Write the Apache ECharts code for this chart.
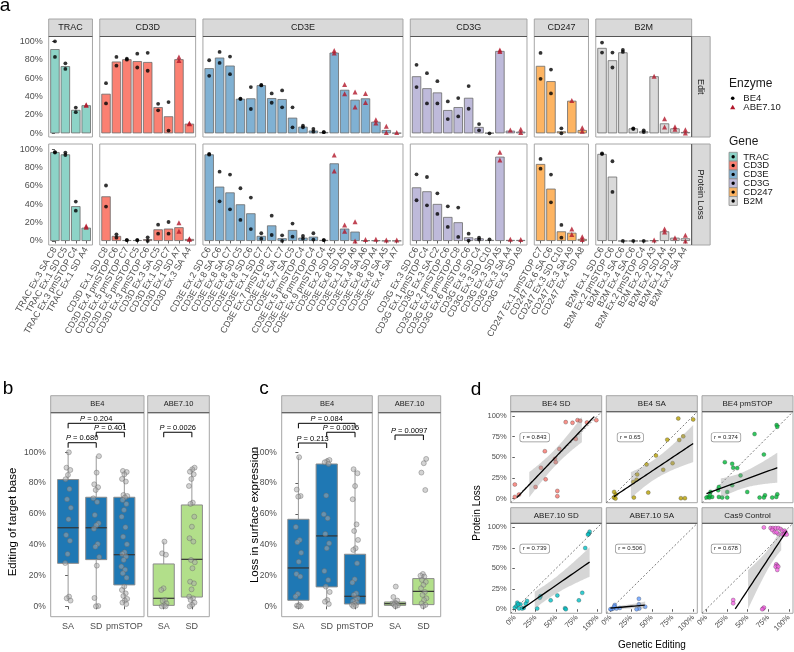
<!DOCTYPE html>
<html>
<head>
<meta charset="utf-8">
<script src="https://cdn.jsdelivr.net/npm/echarts@6/dist/echarts.min.js"></script>
<style>html,body{margin:0;padding:0;background:#fff;}#chart{width:794px;height:652px;}</style>
</head>
<body>
<div id="chart"></div>
<script>
// ================= Panel a data =================
const geneNames = ['TRAC','CD3D','CD3E','CD3G','CD247','B2M'];

const tracLabels = ['TRAC Ex.3 SA C8','TRAC Ex.1 SD C5','TRAC Ex.3 pmSTOP C4','TRAC Ex.1 SD A4'];
const tracEditBar = [91.5,73,25.5,30.5];
const tracEditPts = [[100,83],[76,70],[28,23],[31,30.5]];
const tracLossBar = [97,94.5,38,14.5];
const tracLossPts = [[97,96.5],[96.4,93.8],[43,33],[16.4,15]];

const cd3dLabels = ['CD3D Ex.1 SD C8','CD3D Ex.4 pmSTOP C6','CD3D Ex.5 pmSTOP C7','CD3D Ex.5 pmSTOP C5','CD3D Ex.3 pmSTOP C6','CD3D Ex.3 SA C5','CD3D Ex.1 SD C7','CD3D Ex.1 SD A7','CD3D Ex.3 SA A4'];
const cd3dEditBar = [43,78,80.5,78.5,77.5,28.5,18.5,80.5,10.5];
const cd3dEditPts = [[54.5,32.5],[83,73.5],[81,80],[86.5,71.5],[87.5,68],[32,25],[34,3],[83,79],[11,10.5]];
const cd3dLossBar = [48.7,5.5,1,1,2,12.7,13.5,15,2.2];
const cd3dLossPts = [[60.5,37.5],[7.3,3.6],[1,1],[1,1],[4,0],[17.8,8],[20.7,8],[20,10.5],[2.5,2]];

const cd3eLabels = ['CD3E Ex.2 SD C6','CD3E Ex.8 SA C6','CD3E Ex.8 SA C7','CD3E Ex.8 SD C5','CD3E Ex.8 SD C6','CD3E Ex.1 SD C7','CD3E Ex.7 pmSTOP C7','CD3E Ex.5 SA C7','CD3E Ex.7 SA C5','CD3E Ex.5 pmSTOP C4','CD3E Ex.6 pmSTOP C4','CD3E Ex.9 pmSTOP C4','CD3E Ex.2 SD A5','CD3E Ex.8 SD A5','CD3E Ex.1 SD A6','CD3E Ex.4 SA A6','CD3E Ex.8 SD A4','CD3E Ex.8 SA A5','CD3E Ex.4 SA A7'];
const cd3eEditBar = [70.8,82.3,73.6,37.5,38,52.3,38.3,37.2,17,7.2,3,1.4,87.7,47.3,36.5,38,12.6,3.6,0.4];
const cd3eEditPts = [[79.4,62.5],[88.4,76.5],[83.4,64.3],[37.8,37.2],[50.2,26.4],[52.5,52],[43.3,33.2],[46.6,28.2],[28.2,6.5],[8.3,6.5],[4.7,1.8],[1.3,1.2],[90,87.4],[53,43],[45,28.5],[43.3,33.6],[14.8,11.2],[7.6,1],[1]];
const cd3eLossBar = [94.5,59.3,53,40,30.2,5.5,17,3,12,3.6,4.7,1.1,84.7,13.5,10.2,0.7,0.7,0.3,0.3];
const cd3eLossPts = [[95,94.2],[75.6,43.3],[72.4,34.5],[57.5,23],[47.3,13],[8.4,2.5],[27.6,6.5],[6.2,0],[19,4.7],[5.5,2.5],[8.4,1.5],[1,1],[93.8,76.4],[17.5,10.5],[21,0],[1.5],[1.8],[1],[1]];

const cd3gLabels = ['CD3G Ex.3 SD C6','CD3G Ex.1 pmSTOP C4','CD3G Ex.3 SA C2','CD3G Ex.2 pmSTOP C6','CD3G Ex.5 pmSTOP C8','CD3G Ex.6 pmSTOP C6','CD3G Ex.5 SD C4','CD3G Ex.3 SD C10','CD3G Ex.3 SD A5','CD3G Ex.3 SA A4','CD3G Ex.5 SD A9'];
const cd3gEditBar = [62,49,44.4,25.3,28.5,38.6,6.9,0.4,89.5,2.9,1.8];
const cd3gEditPts = [[74.4,50.2],[65.3,32.5],[56.7,32.5],[34.7,15.5],[38.3,18.4],[51.3,26.7],[10,3.2],[0],[90.6,89],[3.6],[4.3,1]];
const cd3gLossBar = [58.5,54.2,40.4,26.2,20.4,4,2.9,1.1,92,1.1,1.1];
const cd3gLossPts = [[72.7,44.4],[69.8,38.9],[52,29.5],[37.8,15.3],[36.4,4.4],[8,0.4],[3.6,1.5],[1.8],[96.7,88.4],[1.8],[1.5]];

const cd247Labels = ['CD247 Ex.1 pmSTOP C7','CD247 Ex.6 SA C6','CD247 Ex.3 SD C10','CD247 Ex.3 SA A9','CD247 Ex.4 SD A8'];
const cd247EditBar = [73.3,56.7,2.2,35.4,3.6];
const cd247EditPts = [[87.4,59.2],[69.3,43.3],[5.4,0],[35.7],[6.1,2.2]];
const cd247LossBar = [84,57.1,10.5,9,2.2];
const cd247LossPts = [[89.5,78.9],[72.4,42.2],[17.5,3.6],[13,7],[4.7,1.5]];

const b2mLabels = ['B2M Ex.1 SD C6','B2M Ex.2 pmSTOP C6','B2M Ex.3 SA C6','B2M Ex.4 SA C6','B2M Ex.2 pmSTOP C4','B2M Ex.2 SD A3','B2M Ex.2 SD A4','B2M Ex.1 SD A5','B2M Ex.2 SA A4'];
const b2mEditBar = [92.8,79.4,88,5.4,2.2,62,10.8,5.4,1.4];
const b2mEditPts = [[98.6,87.7],[87.7,71.5],[90.6,88.4],[5.4,4.7],[3.2,1.4],[62],[15.9,6.9],[7.2,4.3],[4,0.4]];
const b2mLossBar = [95,70.2,0,0,0,0.7,10.5,3.6,2.9];
const b2mLossPts = [[95.6,94.8],[87,53.5],[0],[0],[0],[1],[13,9.8],[3.6],[6.2,0]];

const pctTicks = [0,20,40,60,80,100];
const enzymeNames = ['BE4','ABE7.10'];

// ================= Panel b / c data =================
const be4Cats = ['SA','SD','pmSTOP'];
const abeCats = ['SA','SD'];
const stripBE4 = 'BE4', stripABE = 'ABE7.10';

const bBe4Sa = [100,90,88.5,85.3,82.5,76.2,69.5,64,56.5,46.3,42.6,34,28.1,6.3,5.2,3.7];
const bBe4Sd = [97.5,86.8,79.2,77.3,75.5,70.1,67.7,59.3,53.9,52.6,50.4,40.5,38.7,32,26.4,5.4,0.2,0];
const bBe4Pm = [87.9,87.2,85.7,82.7,81,72.3,71.6,70.6,69,66.5,62.6,58.2,51.3,45.2,40.3,35.1,34,32.3,30.1,25.8,23.8,21.4,18.6,12.8,10.6,8.4,6.7,4.8,3.7,2.4,1.5];
const bAbeSa = [42,34.4,33.5,11.7,10.6,4.1,3.5,1.9,0.6,0,0];
const bAbeSd = [90,89,87.4,85.7,82.7,78.1,67.3,66.5,58.2,51.7,44.2,42,30.1,28.6,24.7,16,14.9,11,6.3,5.2,4.1,2.4,0.9,0];
const bBoxBe4 = [[3.7,27.9,51,82.3,100],[0,30.3,51,70.8,97.5],[1.5,13.9,33.5,70.8,88]];
const bBoxAbe = [[0,0.6,5.2,27.5,42],[0,6,30.5,65.8,90]];
const bPvalBe4 = [[0,2,118.8,'0.204'],[1,2,113,'0.401'],[0,1,106.2,'0.680']];
const bPvalAbe = [[0,1,113,'0.0026']];

const cBe4Sa = [96.8,75.8,71.6,71.2,51.5,43,41.6,34.8,29,21,19.3,8,6.3,0.9,0.4,0,0];
const cBe4Sd = [95,94.2,93.5,92.4,71.9,59.7,57.1,47,40.9,37.7,22.9,17.1,12.8,9.3,4.1,3,1.5];
const cBe4Pm = [89,86.4,78.1,69.5,53.2,48.9,43.1,37.7,36.6,27.9,17.5,15.4,8.4,7.4,5.2,4.1,3.2,2.4,1.5,0.9,0.4,0];
const cAbeSa = [12.8,6,3.7,2.4,1.9,1.5,1.1,0.6,0];
const cAbeSd = [95.7,92.9,86.8,75.5,21,19.9,19.3,17.1,15.8,13.9,11.7,9.3,7.4,5.2,4.1,1.9,0.9,0];
const cBoxBe4 = [[0,3.9,24.9,56.5,97.2],[1.5,12.6,45.7,92.4,96],[0,1.5,6.5,33.8,89]];
const cBoxAbe = [[0,0.6,1.7,2.8,3.7],[0,1.1,9.7,18,21]];
const cPvalBe4 = [[0,2,118.8,'0.084'],[1,2,113,'0.0016'],[0,1,106,'0.213']];
const cPvalAbe = [[0,1,111.2,'0.0097']];

// ================= Panel d data =================
const dFacetNames = ['BE4 SD','BE4 SA','BE4 pmSTOP','ABE7.10 SD','ABE7.10 SA','Cas9 Control'];
const dRText = ['r = 0.843','r = 0.65','r = 0.374','r = 0.739','r = 0.506','r = 0.678'];
const dTicks = [0,25,50,75,100];
const dBe4Sd = [[61.5,92.4],[69.7,91.6],[75.8,94.8],[79,94],[87.2,92],[98.5,94.8],[73.7,72],[36.3,57.2],[53.8,60],[48.5,48],[49.4,44],[31.5,37.2],[37.2,23.2],[25,14],[51.4,9.2],[51.4,2.8],[0,17],[0,2],[5,4.8]];
const dBe4Sa = [[82,96.8],[100,95.6],[68.7,71.2],[83.2,70.8],[88,75.2],[55,52],[43.7,41.2],[32.4,29.2],[31.6,22.8],[27.5,20],[75.1,42.8],[63.8,34.8],[45.7,7.2],[28.3,1.2],[4.5,8],[6.5,4.8],[4.1,1.2],[6.1,0],[85.2,0.4],[90,0.4]];
const dBe4Pm = [[85.2,88.8],[86,86.8],[58.5,78],[69.8,53.2],[31.5,42],[22.6,44],[32.7,37.2],[37.6,36.8],[41.6,28],[31.5,16],[15.4,14],[5.3,8],[2.5,2],[0.4,1.2],[4.1,1.2],[7.3,2],[15.4,2],[25.5,8],[14.6,10],[4.5,4],[49.7,8],[86,5.2],[84.8,2],[79.9,1.2],[71.1,4],[69.8,1.2],[64.6,1.2],[25.5,1.2],[19.4,1.2]];
const dAbeSd = [[90.4,94.8],[89.2,92],[88.4,91.2],[85.1,74.8],[81.5,20],[77.4,10.8],[60.7,1.2],[61.6,0],[51.4,16.8],[43.3,10.8],[31.1,16],[30.2,14],[27,0.8],[14.8,10],[13.2,6.8],[10.7,1.6],[8.7,0.8],[6.7,6],[0,2],[2,4],[3,8],[5,1],[4,6]];
const dAbeSa = [[34.4,12.8],[34.4,6],[34.8,0.8],[31.6,0],[5.3,5.2],[1.3,0],[3.3,0.8],[7.3,0.8],[11.4,1.6],[4.5,3.2],[0,0],[42,3]];
const dCas9 = [[69.8,100],[77.9,99.2],[80.7,99.2],[84,99.2],[87.2,99.2],[90,98],[92,96],[94.9,96],[96.1,94],[79.9,96.8],[87.2,92],[92,91.2],[82.8,94],[85.2,94],[94,91.2],[97.3,91.2],[84.8,54.8],[86,53.2],[84,52],[87.2,52],[86,48],[69,0.8],[69.8,2],[67.8,0],[32.7,11.2],[32.7,7.2]];

// ================= Styles / layout =================
const FONT = 'Liberation Sans, Arial, sans-serif';
const geneFill = ['#8DD3C7','#FB8072','#80B1D3','#BEBADA','#FDB462','#D9D9D9'];
const dColors = ['#F8766D','#B79F00','#00BA38','#00BFC4','#619CFF','#F564E3'];
const TXT = '#4d4d4d', BORDER = '#a6a6a6';

const grids=[], xAxes=[], yAxes=[], series=[], gfx=[];
function addGrid(g,x,y){ grids.push(g); const i=grids.length-1; x.gridIndex=i; y.gridIndex=i; xAxes.push(x); yAxes.push(y); return i; }
function addText(x,y,text,o){ o=o||{}; const al=o.align||'center', va=o.va||'middle';
  gfx.push({type:'text', x:x, y:y, rotation:o.rot||0, z:o.z||30, silent:true,
    style:{text:text, fill:o.color||'#1a1a1a', fontSize:o.size||9, fontFamily:FONT,
      align:al, textAlign:al, verticalAlign:va, textVerticalAlign:va,
      backgroundColor:o.bg, borderColor:o.bc, borderWidth:o.bw, borderRadius:o.br, padding:o.pad}}); }
function addRect(x,y,w,h,fill,stroke,lw,z){ gfx.push({type:'rect', z:z||20, silent:true, shape:{x:x,y:y,width:w,height:h}, style:{fill:fill, stroke:stroke, lineWidth:lw||1}}); }
function addLine(x1,y1,x2,y2,stroke,lw,z){ gfx.push({type:'line', z:z||21, silent:true, shape:{x1:x1,y1:y1,x2:x2,y2:y2}, style:{stroke:stroke, lineWidth:lw||1}}); }
function strip(x,y,w,h,label,size,vertical){
  addRect(x,y,w,h,'#d9d9d9',BORDER,1);
  if(vertical) addLine(x,y,x,y+h,'#555',1); else addLine(x,y+h,x+w,y+h,'#555',1);
  addText(x+w/2,y+h/2,label,{size:size, rot: vertical?-Math.PI/2:0});
}
function idxArr(n){ const a=[]; for(let i=0;i<n;i++) a.push(i); return a; }
const noAxisLine = {show:false};

// ================= Panel a =================
const aFacets = [
  [tracLabels,tracEditBar,tracEditPts,tracLossBar,tracLossPts],
  [cd3dLabels,cd3dEditBar,cd3dEditPts,cd3dLossBar,cd3dLossPts],
  [cd3eLabels,cd3eEditBar,cd3eEditPts,cd3eLossBar,cd3eLossPts],
  [cd3gLabels,cd3gEditBar,cd3gEditPts,cd3gLossBar,cd3gLossPts],
  [cd247Labels,cd247EditBar,cd247EditPts,cd247LossBar,cd247LossPts],
  [b2mLabels,b2mEditBar,b2mEditPts,b2mLossBar,b2mLossPts]
];
const aRows = [
  {top:36.5, h:100.5, min:-4, max:105.2, name:'Edit'},
  {top:144, h:101, min:-4.4, max:105.8, name:'Protein Loss'}
];
const aUnit = 10.42, aGap = 7.3;
let aCur = 48.7;
aFacets.forEach((f,fi)=>{
  const labels=f[0], n=labels.length, w=aUnit*(n+0.2), ix=idxArr(n);
  strip(aCur,19,w,17.5,geneNames[fi],9,false);
  aRows.forEach((r,ri)=>{
    const first = fi===0, bottom = ri===1;
    const gi = addGrid({left:aCur, top:r.top, width:w, height:r.h, show:true, borderColor:BORDER, borderWidth:1},
      {type:'value', min:-0.6, max:n-0.4, axisLine:noAxisLine, splitLine:{show:false},
       axisTick:{show:bottom, customValues:ix, length:2.5, lineStyle:{color:'#333',width:0.8}},
       axisLabel:{show:bottom, customValues:ix, formatter:v=>labels[Math.round(v)], rotate:60, fontSize:9, color:TXT, fontFamily:FONT, margin:3}},
      {type:'value', min:r.min, max:r.max, axisLine:noAxisLine, splitLine:{show:false},
       axisTick:{show:first, customValues:pctTicks, length:3, lineStyle:{color:'#333',width:0.8}},
       axisLabel:{show:first, customValues:pctTicks, formatter:v=>v+'%', fontSize:9, color:TXT, fontFamily:FONT, margin:6}});
    const bars = f[1+ri*2], pts = f[2+ri*2];
    series.push({type:'bar', xAxisIndex:gi, yAxisIndex:gi, barWidth:0.9*aUnit, silent:true,
      data:bars.map((v,i)=>[i,v]), itemStyle:{color:geneFill[fi], borderColor:'#6b6b6b', borderWidth:0.8}});
    const circ=[], tri=[];
    pts.forEach((arr,i)=>{ const isA=/ A\d+$/.test(labels[i]); arr.forEach(v=>(isA?tri:circ).push([i,v])); });
    series.push({type:'scatter', xAxisIndex:gi, yAxisIndex:gi, silent:true, symbol:'circle', symbolSize:3.8, data:circ, itemStyle:{color:'#000'}});
    series.push({type:'scatter', xAxisIndex:gi, yAxisIndex:gi, silent:true, symbol:'triangle', symbolSize:5, data:tri, itemStyle:{color:'#b2182b'}});
    if(fi===aFacets.length-1) strip(aCur+w,r.top,18.5,r.h,r.name,9,true);
  });
  aCur += w + aGap;
});
// legends panel a
addText(729,83.5,'Enzyme',{size:12, align:'left'});
gfx.push({type:'circle', z:30, silent:true, shape:{cx:732.7, cy:98.3, r:1.8}, style:{fill:'#000'}});
addText(743.3,98.3,enzymeNames[0],{size:9.5, align:'left'});
gfx.push({type:'polygon', z:30, silent:true, shape:{points:[[732.7,104.8],[735.3,109.2],[730.1,109.2]]}, style:{fill:'#b2182b'}});
addText(743.3,107.3,enzymeNames[1],{size:9.5, align:'left'});
addText(729,141.7,'Gene',{size:12, align:'left'});
geneNames.forEach((g,i)=>{
  const y=152.3+i*8.85;
  addRect(729,y,8.3,8.85,geneFill[i],'#8c8c8c',0.8,29);
  gfx.push({type:'circle', z:30, silent:true, shape:{cx:733.15, cy:y+4.4, r:1.7}, style:{fill:'#000'}});
  addText(743.3,y+4.6,g,{size:9.5, align:'left'});
});

// ================= Panels b / c =================
function jit(k){ return (((k+1)*0.6180339887)%1 - 0.5)*0.22; }
function boxSeries(gi, boxes, fill){
  series.push({type:'custom', xAxisIndex:gi, yAxisIndex:gi, silent:true, z:2,
    data: boxes.map((b,i)=>[i].concat(b)),
    renderItem:(params,api)=>{
      const x=api.value(0);
      const lo=api.coord([x,api.value(1)]), q1=api.coord([x,api.value(2)]), md=api.coord([x,api.value(3)]), q3=api.coord([x,api.value(4)]), hi=api.coord([x,api.value(5)]);
      const hw=api.size([0.75,0])[0]/2;
      const ws={stroke:'#999', lineWidth:1};
      return {type:'group', children:[
        {type:'line', shape:{x1:lo[0],y1:lo[1],x2:q1[0],y2:q1[1]}, style:ws},
        {type:'line', shape:{x1:q3[0],y1:q3[1],x2:hi[0],y2:hi[1]}, style:ws},
        {type:'rect', shape:{x:q1[0]-hw, y:q3[1], width:2*hw, height:Math.max(q1[1]-q3[1],1)}, style:{fill:fill, stroke:'#8c8c8c', lineWidth:1}},
        {type:'line', shape:{x1:md[0]-hw,y1:md[1],x2:md[0]+hw,y2:md[1]}, style:{stroke:'#333', lineWidth:1.2}}
      ]};
    }});
}
function pvalSeries(gi, pv){
  series.push({type:'custom', xAxisIndex:gi, yAxisIndex:gi, silent:true, z:4,
    data: pv.map(p=>[p[0],p[1],p[2]]),
    renderItem:(params,api)=>{
      const p1=api.coord([api.value(0),api.value(2)]), p2=api.coord([api.value(1),api.value(2)]);
      const tip=5, txt=pv[params.dataIndex][3];
      return {type:'group', children:[
        {type:'polyline', shape:{points:[[p1[0],p1[1]+tip],[p1[0],p1[1]],[p2[0],p2[1]],[p2[0],p2[1]+tip]]}, style:{stroke:'#000', lineWidth:1, fill:null}},
        {type:'text', style:{text:'{i|P} = '+txt, x:(p1[0]+p2[0])/2, y:p1[1]-0.5, align:'center', textAlign:'center', verticalAlign:'bottom', textVerticalAlign:'bottom', fontSize:7.5, fontFamily:FONT, fill:'#000',
          rich:{i:{fontStyle:'italic', fontSize:7.5, fontFamily:FONT, fill:'#000'}}}}
      ]};
    }});
}
function boxFacet(o){
  const ix=idxArr(o.cats.length);
  const gi = addGrid({left:o.left, top:412.7, width:o.width, height:204, show:true, borderColor:BORDER, borderWidth:1},
    {type:'value', min:o.xmin, max:o.xmax, axisLine:noAxisLine, splitLine:{show:false},
     axisTick:{customValues:ix, length:3, lineStyle:{color:'#333',width:0.8}},
     axisLabel:{customValues:ix, formatter:v=>o.cats[Math.round(v)], fontSize:9, color:TXT, fontFamily:FONT, margin:5}},
    {type:'value', min:-6.75, max:125.7, axisLine:noAxisLine, splitLine:{show:false},
     axisTick:{show:o.showY, customValues:pctTicks, length:3, lineStyle:{color:'#333',width:0.8}},
     axisLabel:{show:o.showY, customValues:pctTicks, formatter:v=>v+'%', fontSize:8.5, color:TXT, fontFamily:FONT, margin:5}});
  boxSeries(gi, o.boxes, o.fill);
  const pts=[];
  o.pts.forEach((arr,i)=>arr.forEach((v,k)=>pts.push([i+jit(k+i*7), v])));
  series.push({type:'scatter', xAxisIndex:gi, yAxisIndex:gi, silent:true, z:3, symbolSize:5, data:pts,
    itemStyle:{color:'rgba(170,170,170,0.65)', borderColor:'rgba(100,100,100,0.75)', borderWidth:0.7}});
  pvalSeries(gi, o.pv);
  strip(o.left,395.7,o.width,17,o.strip,7.5,false);
}
const BE4FILL='#1f78b4', ABEFILL='#b2df8a';
boxFacet({left:50.7, width:93.3, xmin:-0.62, xmax:2.7, cats:be4Cats, boxes:bBoxBe4, pts:[bBe4Sa,bBe4Sd,bBe4Pm], fill:BE4FILL, showY:true, pv:bPvalBe4, strip:stripBE4});
boxFacet({left:147.7, width:61.6, xmin:-0.57, xmax:1.62, cats:abeCats, boxes:bBoxAbe, pts:[bAbeSa,bAbeSd], fill:ABEFILL, showY:false, pv:bPvalAbe, strip:stripABE});
boxFacet({left:281.7, width:90.6, xmin:-0.59, xmax:2.61, cats:be4Cats, boxes:cBoxBe4, pts:[cBe4Sa,cBe4Sd,cBe4Pm], fill:BE4FILL, showY:true, pv:cPvalBe4, strip:stripBE4});
boxFacet({left:378.3, width:62.4, xmin:-0.59, xmax:1.61, cats:abeCats, boxes:cBoxAbe, pts:[cAbeSa,cAbeSd], fill:ABEFILL, showY:false, pv:cPvalAbe, strip:stripABE});
addText(13,522,'Editing of target base',{size:11.5, rot:Math.PI/2, color:'#000'});
addText(255,515,'Loss in surface expression',{size:11.5, rot:Math.PI/2, color:'#000'});

// ================= Panel d =================
function tq(df){ const t={1:12.706,2:4.303,3:3.182,4:2.776,5:2.571,6:2.447,7:2.365,8:2.306,9:2.262,10:2.228}; return df<=10?t[df]:1.96+2.4/df+3/(df*df); }
function fitLm(pts){
  const n=pts.length; let mx=0,my=0; pts.forEach(p=>{mx+=p[0];my+=p[1];}); mx/=n; my/=n;
  let sxx=0,sxy=0; pts.forEach(p=>{sxx+=(p[0]-mx)*(p[0]-mx); sxy+=(p[0]-mx)*(p[1]-my);});
  const b=sxy/sxx, a=my-b*mx; let sse=0; pts.forEach(p=>{const e=p[1]-a-b*p[0]; sse+=e*e;});
  const s=Math.sqrt(sse/(n-2)), t=tq(n-2);
  const xs=pts.map(p=>p[0]), x0=Math.min.apply(null,xs), x1=Math.max.apply(null,xs);
  const g=[]; for(let k=0;k<80;k++){ const x=x0+(x1-x0)*k/79, y=a+b*x, se=s*Math.sqrt(1/n+(x-mx)*(x-mx)/sxx); g.push([x,y,y-t*se,y+t*se]); }
  const line=g.filter(q=>q[1]>=0&&q[1]<=100).map(q=>[q[0],q[1]]);
  const segs=[]; let cur=null;
  g.forEach(q=>{ if(q[2]>=0&&q[3]<=100){ if(!cur){cur=[];segs.push(cur);} cur.push(q);} else cur=null; });
  return {line:line, segs:segs};
}
const dPoints=[dBe4Sd,dBe4Sa,dBe4Pm,dAbeSd,dAbeSa,dCas9];
const dColLeft=[510.7,606.3,702], dW=91, dRowTop=[411.7,523.3], dRowH=[91,90], dStripTop=[395.7,507.7], dStripH=[16,15.6];
dPoints.forEach((pts,k)=>{
  const col=k%3, row=Math.floor(k/3), left=dColLeft[col], top=dRowTop[row], h=dRowH[row];
  const gi=addGrid({left:left, top:top, width:dW, height:h, show:true, borderColor:BORDER, borderWidth:1},
    {type:'value', min:-5, max:105, axisLine:noAxisLine, splitLine:{show:false},
     axisTick:{show:row===1, customValues:dTicks, length:2.5, lineStyle:{color:'#333',width:0.8}},
     axisLabel:{show:row===1, customValues:dTicks, formatter:v=>v+'%', rotate:45, fontSize:7.5, color:TXT, fontFamily:FONT, margin:3}},
    {type:'value', min:-5, max:105, axisLine:noAxisLine, splitLine:{show:false},
     axisTick:{show:col===0, customValues:dTicks, length:2.5, lineStyle:{color:'#333',width:0.8}},
     axisLabel:{show:col===0, customValues:dTicks, formatter:v=>v+'%', fontSize:7.5, color:TXT, fontFamily:FONT, margin:4}});
  series.push({type:'line', xAxisIndex:gi, yAxisIndex:gi, silent:true, symbol:'none', z:2, data:[[-5,-5],[105,105]], lineStyle:{color:'#444', width:0.7, type:[2,2]}});
  series.push({type:'scatter', xAxisIndex:gi, yAxisIndex:gi, silent:true, z:3, symbolSize:4, data:pts, itemStyle:{color:dColors[k], borderColor:'rgba(40,40,40,0.7)', borderWidth:0.5}});
  const fit=fitLm(pts);
  series.push({type:'custom', xAxisIndex:gi, yAxisIndex:gi, silent:true, z:4, data:fit.segs.map((s,i)=>[i]),
    renderItem:(params,api)=>{
      const s=fit.segs[params.dataIndex];
      const up=s.map(q=>api.coord([q[0],q[3]])), lo=s.map(q=>api.coord([q[0],q[2]])).reverse();
      return {type:'polygon', shape:{points:up.concat(lo)}, style:{fill:'rgba(153,153,153,0.4)'}};
    }});
  series.push({type:'line', xAxisIndex:gi, yAxisIndex:gi, silent:true, symbol:'none', z:5, data:fit.line, lineStyle:{color:'#000', width:1.3}});
  strip(left,dStripTop[row],dW,dStripH[row],dFacetNames[k],8,false);
  addText(left+(24+5)/110*dW, top+(105-74)/110*h, dRText[k], {size:6, color:'#1a1a1a', bg:'#fff', bc:'#8c8c8c', bw:0.7, br:2, pad:[1.5,2.5,1,2.5]});
});
addText(477,513,'Protein Loss',{size:10, rot:Math.PI/2, color:'#000'});
addText(652,645.5,'Genetic Editing',{size:10, color:'#000'});

// panel letters
addText(5,5.5,'a',{size:19, color:'#000', align:'center'});
addText(8,388.5,'b',{size:19, color:'#000'});
addText(264,388.5,'c',{size:19, color:'#000'});
addText(476,389.5,'d',{size:19, color:'#000'});

const chart = echarts.init(document.getElementById('chart'), null, {renderer:'canvas'});
chart.setOption({
  animation:false,
  backgroundColor:'#fff',
  textStyle:{fontFamily:FONT},
  grid:grids, xAxis:xAxes, yAxis:yAxes, series:series,
  graphic:{elements:gfx}
});
</script>
</body>
</html>
